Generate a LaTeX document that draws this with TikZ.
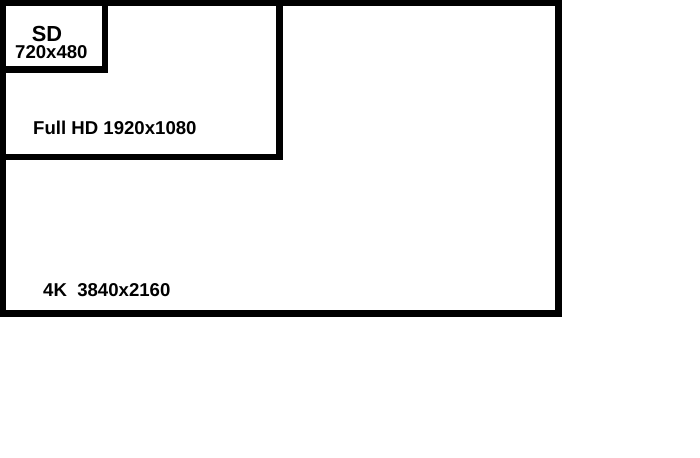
\documentclass[tikz,border=0pt]{standalone}
\usepackage{fontspec}
\setmainfont{Liberation Sans}
\usepackage{tikz}
\usetikzlibrary{positioning}
\tikzset{
  resbox/.style={draw=black, line width=6.5pt},
  reslabel/.style={inner sep=0pt, font=\fontsize{18.6}{20}\selectfont\bfseries},
}

\begin{document}
\begin{tikzpicture}[x=1pt, y=-1pt]
  \useasboundingbox (0,0) rectangle (700,457);
  % nested frames, biggest first
  \draw[resbox] (3,3) rectangle (558.5,313.5);
  \draw[resbox] (3,3) rectangle (279.5,157);
  \draw[resbox] (3,3) rectangle (105,69.5);
  % labels
  \node[reslabel, font=\fontsize{21.8}{24}\selectfont\bfseries, anchor=base] (sd) at (47,42) {SD};
  \node[reslabel, anchor=base west] (sdres) at (15,59) {720x480};
  \node[reslabel, anchor=base west] (fullhd) at (33,135) {Full HD 1920x1080};
  \node[reslabel, anchor=base west] (uhd) at (43,296) {4K\ \ 3840x2160};
\end{tikzpicture}
\end{document}
